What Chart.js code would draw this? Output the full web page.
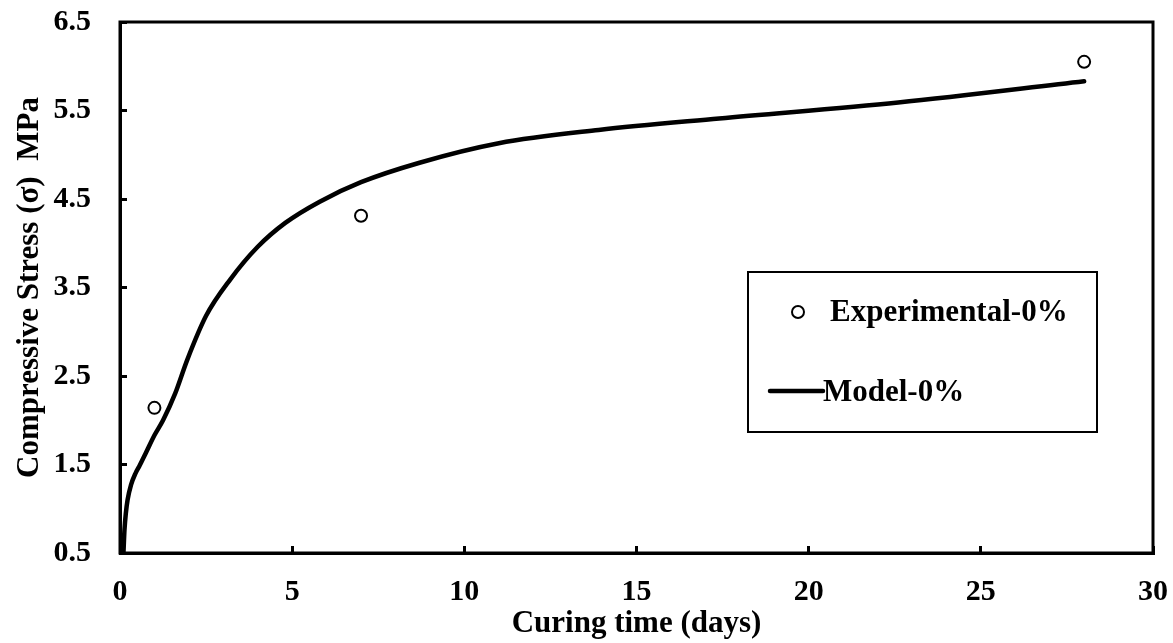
<!DOCTYPE html>
<html>
<head>
<meta charset="utf-8">
<title>Compressive stress vs curing time</title>
<script src="https://cdn.jsdelivr.net/npm/chart.js@4.4.1/dist/chart.umd.min.js"></script>
<style>
    html, body { margin: 0; padding: 0; background: #fff; }
    #chart { display: block; }
</style>
</head>
<body>
<canvas id="chart" width="1173" height="643"></canvas>
<script>
// measured points
const expDays = [1, 7, 28];
const expStress = [2.14, 4.31, 6.05];

// model curve
const modelDays = [0.1, 0.13, 0.17, 0.22, 0.32, 0.45, 0.56, 0.75, 1.0, 1.25, 1.6, 1.95, 2.5, 3.2, 4.0, 4.8, 5.8, 7.0, 8.7, 11, 13.9, 17.4, 22.6, 28];
const modelStress = [0.5, 0.76, 0.95, 1.1, 1.27, 1.4, 1.48, 1.63, 1.83, 2.0, 2.3, 2.68, 3.18, 3.59, 3.96, 4.23, 4.47, 4.69, 4.91, 5.13, 5.28, 5.41, 5.59, 5.83];

const seriesNames = ['Experimental-0%', 'Model-0%'];

const xTitle = 'Curing time (days)';
const yTitle = 'Compressive Stress (σ)  MPa';

const FONT = '"Liberation Serif", "Times New Roman", serif';

function toPoints(xs, ys) {
    return xs.map((x, i) => ({ x: x, y: ys[i] }));
}

// full box around the plot area + the framed legend
const frameAndLegend = {
    id: 'frameAndLegend',
    afterDraw(chart) {
        const ctx = chart.ctx;
        const area = chart.chartArea;
        ctx.save();
        ctx.strokeStyle = '#000';
        ctx.lineWidth = 3;
        ctx.strokeRect(area.left, area.top, area.right - area.left, area.bottom - area.top);

        // legend box
        const bx = 748, by = 272, bw = 349, bh = 160;
        ctx.fillStyle = '#fff';
        ctx.fillRect(bx, by, bw, bh);
        ctx.lineWidth = 2;
        ctx.strokeRect(bx, by, bw, bh);

        const expSet = chart.data.datasets[0];
        const modSet = chart.data.datasets[1];

        ctx.font = 'bold 31px ' + FONT;
        ctx.textBaseline = 'middle';
        ctx.textAlign = 'left';

        // experimental entry
        ctx.beginPath();
        ctx.arc(798, 312, 6, 0, Math.PI * 2);
        ctx.fillStyle = expSet.backgroundColor;
        ctx.fill();
        ctx.lineWidth = expSet.borderWidth;
        ctx.strokeStyle = expSet.borderColor;
        ctx.stroke();
        ctx.fillStyle = '#000';
        ctx.fillText(expSet.label, 830, 313);

        // model entry
        ctx.beginPath();
        ctx.moveTo(770, 391);
        ctx.lineTo(823, 391);
        ctx.lineWidth = modSet.borderWidth;
        ctx.strokeStyle = modSet.borderColor;
        ctx.lineCap = 'round';
        ctx.stroke();
        ctx.fillText(modSet.label, 823, 393);
        ctx.restore();
    }
};

const ctx = document.getElementById('chart');

new Chart(ctx, {
    type: 'scatter',
    data: {
        datasets: [{
            label: seriesNames[0],
            data: toPoints(expDays, expStress),
            showLine: false,
            pointStyle: 'circle',
            pointRadius: 6,
            pointBorderWidth: 2,
            borderWidth: 2,
            borderColor: '#000',
            backgroundColor: '#fff',
            pointBackgroundColor: '#fff',
            pointBorderColor: '#000'
        }, {
            label: seriesNames[1],
            data: toPoints(modelDays, modelStress),
            showLine: true,
            pointRadius: 0,
            borderWidth: 4.5,
            borderColor: '#000',
            backgroundColor: '#000',
            cubicInterpolationMode: 'monotone',
            borderCapStyle: 'round',
            borderJoinStyle: 'round'
        }]
    },
    options: {
        responsive: false,
        animation: false,
        events: [],
        layout: {
            padding: { top: 22, right: 20, left: 0, bottom: 0 }
        },
        plugins: {
            legend: { display: false },
            tooltip: { enabled: false }
        },
        scales: {
            x: {
                type: 'linear',
                min: 0,
                max: 30,
                ticks: {
                    stepSize: 5,
                    padding: 28,
                    color: '#000',
                    font: { family: FONT, size: 30, weight: 'bold' }
                },
                grid: {
                    drawOnChartArea: false,
                    tickLength: -7,
                    tickWidth: 3,
                    tickColor: '#000'
                },
                border: { color: '#000', width: 3 },
                title: {
                    display: true,
                    text: xTitle,
                    color: '#000',
                    padding: { top: 0, bottom: 0 },
                    font: { family: FONT, size: 31, weight: 'bold' }
                },
                afterFit: (scale) => {
                    scale.height = 90;
                    scale.paddingLeft = 0;
                    scale.paddingRight = 0;
                }
            },
            y: {
                type: 'linear',
                min: 0.5,
                max: 6.5,
                ticks: {
                    stepSize: 1,
                    padding: 36,
                    color: '#000',
                    font: { family: FONT, size: 30, weight: 'bold' },
                    callback: (v) => Number(v).toFixed(1)
                },
                grid: {
                    drawOnChartArea: false,
                    tickLength: -7,
                    tickWidth: 3,
                    tickColor: '#000'
                },
                border: { color: '#000', width: 3 },
                title: {
                    display: true,
                    text: yTitle,
                    color: '#000',
                    padding: { top: 11, bottom: 0 },
                    font: { family: FONT, size: 31, weight: 'bold' }
                },
                afterFit: (scale) => {
                    scale.width = 120;
                    scale.paddingTop = 0;
                    scale.paddingBottom = 0;
                }
            }
        }
    },
    plugins: [frameAndLegend]
});
</script>
</body>
</html>
